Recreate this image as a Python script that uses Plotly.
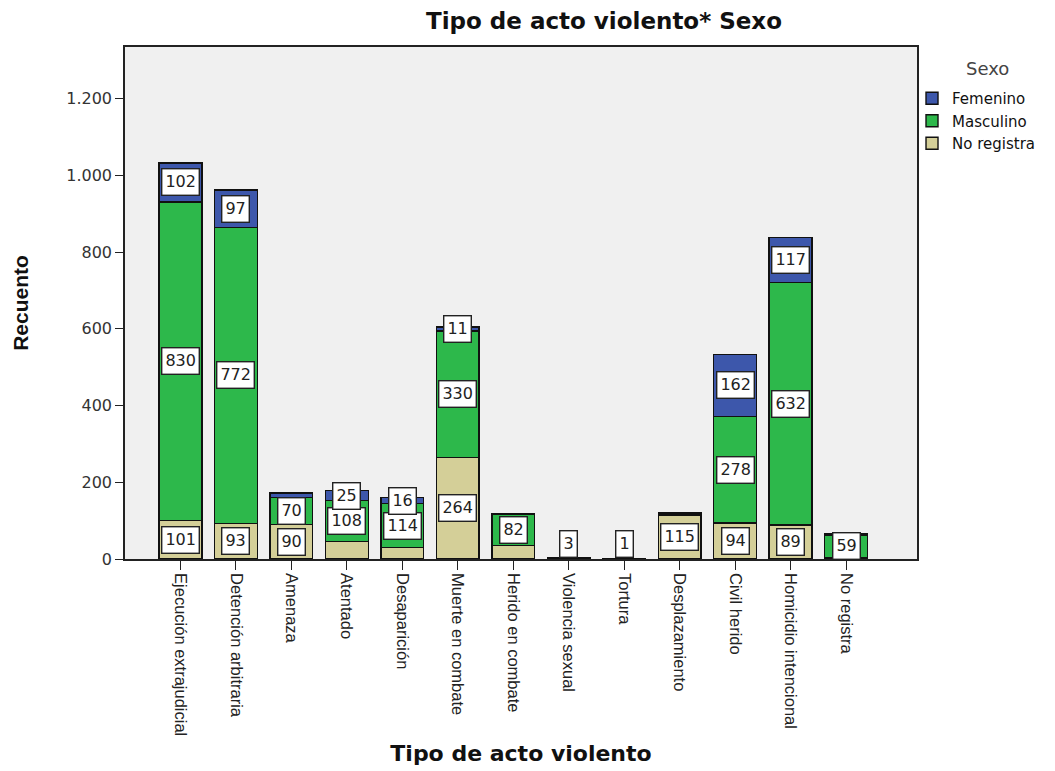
import plotly.graph_objects as go

categories = ["Ejecución extrajudicial", "Detención arbitraria", "Amenaza", "Atentado",
              "Desaparición", "Muerte en combate", "Herido en combate", "Violencia sexual",
              "Tortura", "Desplazamiento", "Civil herido", "Homicidio intencional", "No registra"]

no_registra = [101, 93, 90, 45, 30, 264, 35, 0, 0, 115, 94, 89, 4]
masculino   = [830, 772, 70, 108, 114, 330, 82, 0, 1, 3, 278, 632, 59]
femenino    = [102, 97, 12, 25, 16, 11, 2, 3, 0, 2, 162, 117, 4]

# labels shown in the chart (None = hidden)
lab_no_registra = [101, 93, 90, None, None, 264, None, None, None, 115, 94, 89, None]
lab_masculino   = [830, 772, 70, 108, 114, 330, 82, None, 1, None, 278, 632, 59]
lab_femenino    = [102, 97, None, 25, 16, 11, None, 3, None, None, 162, 117, None]

series = [
    ("No registra", no_registra, lab_no_registra, "#D4CF98"),
    ("Masculino", masculino, lab_masculino, "#2DB84B"),
    ("Femenino", femenino, lab_femenino, "#3D57AB"),
]

FONT = "Liberation Sans, Arial, sans-serif"
WIDE = "DejaVu Sans, sans-serif"
fig = go.Figure()
for name, vals, _, col in series:
    fig.add_trace(go.Bar(x=categories, y=vals, name=name, marker_color=col,
                         marker_line_color="#111111", marker_line_width=1.4, width=0.77))

annotations = []
base = [0] * len(categories)
totals = [a + b + c for a, b, c in zip(no_registra, masculino, femenino)]
for name, vals, labs, col in series:
    for i, (v, l) in enumerate(zip(vals, labs)):
        if l is not None:
            center = base[i] + v / 2
            common = dict(x=categories[i], text=str(l), showarrow=False,
                          font=dict(size=16, color="#222", family=WIDE),
                          bgcolor="white", bordercolor="#222", borderwidth=1.4, borderpad=3)
            if totals[i] < 20:
                annotations.append(dict(y=0, yanchor="bottom", yshift=1, **common))
            else:
                annotations.append(dict(y=center, yanchor="middle", **common))
        base[i] += v

# legend heading
annotations.append(dict(xref="paper", yref="paper", x=1.0896, y=1 - (68 - 47) / 512,
                        xanchor="center", yanchor="middle", text="Sexo", showarrow=False,
                        font=dict(size=18, color="#444", family=WIDE)))

fig.update_layout(
    barmode="stack",
    width=1055, height=771,
    margin=dict(l=125, r=138, t=47, b=212),
    paper_bgcolor="white",
    plot_bgcolor="#F0F0F0",
    separators=",.",
    font=dict(family=FONT, color="#222"),
    title=dict(text="<b>Tipo de acto violento* Sexo</b>", x=604 / 1055, xanchor="center",
               y=1 - 21 / 771, yanchor="middle",
               font=dict(size=23, color="#111", family=WIDE)),
    xaxis=dict(range=[-1, 13.28], showline=True, linecolor="#222", linewidth=1.5, mirror=True,
               ticks="outside", ticklen=9, tickcolor="#222", tickangle=90, automargin=False,
               tickfont=dict(size=16.5, color="#222", family=FONT),
               title=dict(text="<b>Tipo de acto violento</b>",
                          font=dict(size=22, color="#111", family=WIDE), standoff=10)),
    yaxis=dict(range=[0, 1335], showline=True, linecolor="#222", linewidth=1.5, mirror=True,
               showgrid=False, zeroline=False, ticks="outside", ticklen=8, tickcolor="#222",
               tickvals=[0, 200, 400, 600, 800, 1000, 1200], tickformat=",d", automargin=False,
               tickfont=dict(size=16, color="#333", family=WIDE),
               title=dict(text="<b>Recuento</b>", font=dict(size=21, color="#111", family=FONT),
                          standoff=32)),
    legend=dict(x=0.9937, xanchor="left", y=1 - (82 - 47) / 512, yanchor="top",
                traceorder="reversed", bgcolor="rgba(0,0,0,0)",
                font=dict(size=15, color="#111", family=WIDE), itemwidth=30, tracegroupgap=0),
    annotations=annotations,
    showlegend=True,
)

fig.write_html("out.html")
